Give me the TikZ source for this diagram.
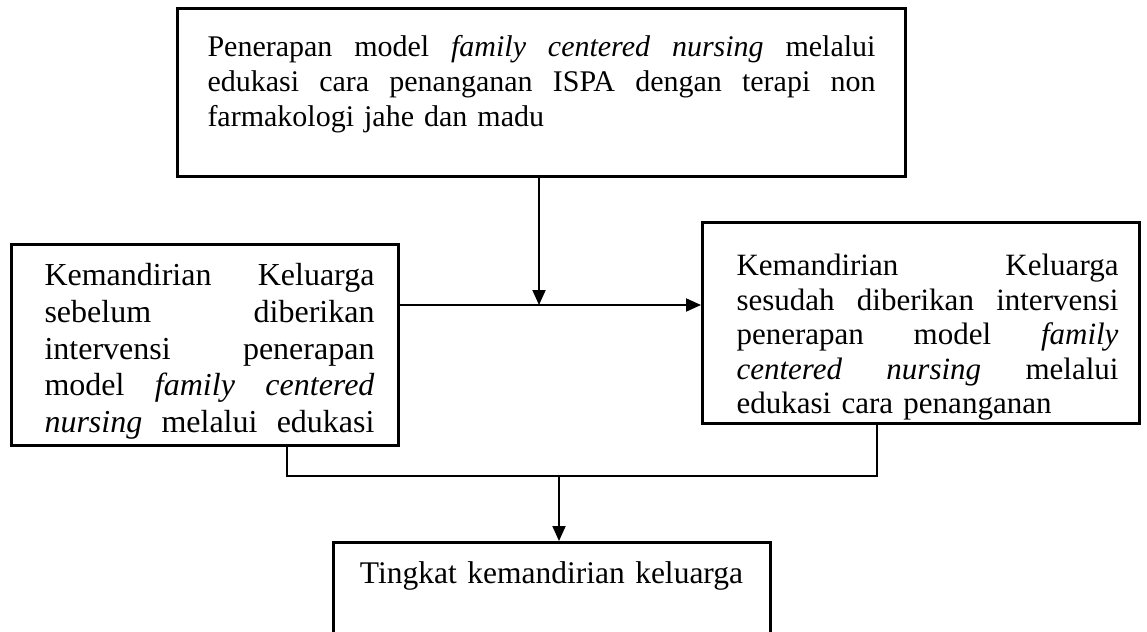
\documentclass[tikz,border=0pt]{standalone}
\usepackage{fontspec}
\setmainfont{Liberation Serif}
\usetikzlibrary{arrows.meta}
\newcommand{\jl}[3]{\hspace*{#1}\makebox[#2][l]{#3}}
\begin{document}
\begin{tikzpicture}[x=1pt,y=-1pt,
  box/.style={draw, line width=3pt, inner sep=0pt, align=left, anchor=north west},
  conn/.style={line width=2pt},
  arr/.style={conn, -{Triangle[length=15pt,width=13pt]}}]
\fill[white] (0,0) rectangle (1147,631);
\useasboundingbox (0,0) rectangle (1147,631);
\begin{scope}
\clip (0,0) rectangle (1147,631);
\node[box, font=\fontsize{30}{35}\selectfont, text width=728pt, text height=48pt, text depth=120pt] (top) at (176,7)
 {\jl{30pt}{668pt}{Penerapan\hfill model\hfill \textit{family}\hfill \textit{centered}\hfill \textit{nursing}\hfill melalui}\\
  \jl{30pt}{668pt}{edukasi\hfill cara\hfill penanganan\hfill ISPA\hfill dengan\hfill terapi\hfill non}\\
  \hspace*{30pt}farmakologi jahe dan madu};
\node[box, font=\fontsize{32}{36.8}\selectfont, text width=387pt, text height=41pt, text depth=160pt] (left) at (10,243)
 {\jl{33pt}{330pt}{Kemandirian\hfill Keluarga}\\
  \jl{33pt}{330pt}{sebelum\hfill diberikan}\\
  \jl{33pt}{330pt}{intervensi\hfill penerapan}\\
  \jl{33pt}{330pt}{model\hfill \textit{family}\hfill \textit{centered}}\\
  \jl{33pt}{330pt}{\textit{nursing}\hfill melalui\hfill edukasi}};
\node[box, font=\fontsize{31}{34.6}\selectfont, text width=437pt, text height=53pt, text depth=148pt] (right) at (701,221)
 {\jl{34pt}{382pt}{Kemandirian\hfill Keluarga}\\
  \jl{34pt}{382pt}{sesudah\hfill diberikan\hfill intervensi}\\
  \jl{34pt}{382pt}{penerapan\hfill model\hfill \textit{family}}\\
  \jl{34pt}{382pt}{\textit{centered}\hfill \textit{nursing}\hfill melalui}\\
  \hspace*{34pt}edukasi cara penanganan};
\node[box, font=\fontsize{31.5}{36}\selectfont, anchor=north, align=center, text width=437pt, text height=41pt, text depth=120pt] (bot) at (551.5,541)
 {Tingkat kemandirian keluarga};
\coordinate (hy) at (0,305);
\coordinate (by) at (0,476);
\coordinate (ax) at (539,0);
\coordinate (bx) at (559,0);
\coordinate (lx) at (287,0);
\coordinate (rx) at (877,0);
\draw[arr] (top.south -| ax) -- (ax |- hy);
\draw[arr] (left.east |- hy) -- (right.west |- hy);
\draw[conn] (left.south -| lx) -- (lx |- by) -- (rx |- by) -- (right.south -| rx);
\draw[arr] (bx |- by) -- (bot.north -| bx);
\end{scope}
\end{tikzpicture}
\end{document}
